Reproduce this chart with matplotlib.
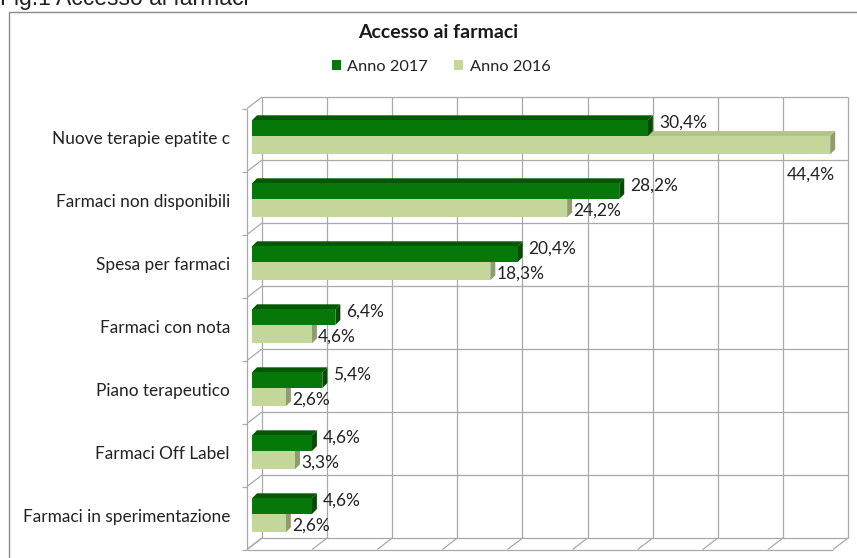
import matplotlib
matplotlib.use("Agg")
import matplotlib.pyplot as plt
from matplotlib.patches import Polygon, Rectangle

plt.rcParams['font.family'] = ['Lato', 'DejaVu Sans']

# Data
categorie = ["Nuove terapie epatite c", "Farmaci non disponibili", "Spesa per farmaci",
             "Farmaci con nota", "Piano terapeutico", "Farmaci Off Label",
             "Farmaci in sperimentazione"]
anno_2017 = [30.4, 28.2, 20.4, 6.4, 5.4, 4.6, 4.6]
anno_2016 = [44.4, 24.2, 18.3, 4.6, 2.6, 3.3, 2.6]

X_MAX = 45
N = len(categorie)

# colours: front, top, side
verde = ("#06780a", "#035803", "#064a06")
chiaro = ("#c4d79b", "#b2c48a", "#8e9c70")
griglia = "#a9a9a9"
testo = "#222222"

W, H = 857, 558
fig = plt.figure(figsize=(W / 100, H / 100), dpi=100)
fig.patch.set_facecolor("white")

ax_l, ax_t, ax_w, ax_h = 252, 105.5, 586, 441
ax = fig.add_axes([ax_l / W, (H - ax_t - ax_h) / H, ax_w / W, ax_h / H])
ax.set_xlim(0, X_MAX)
ax.set_ylim(N, 0)
ax.axis("off")

# pixel -> data helpers
px_x = X_MAX / ax_w
px_y = N / ax_h


def seg(x0, y0, x1, y1):
    ax.plot([x0, x1], [y0, y1], color=griglia, lw=0.9, clip_on=False, zorder=1,
            solid_capstyle="butt")


# walls: back plane shifted right/up, front edge shifted left/down
bdx, bdy = 10 * px_x, 8.5 * px_y
fdx, fdy = -5 * px_x, 3 * px_y
for g in range(0, X_MAX + 1, 5):
    seg(g + bdx, 0 - bdy, g + bdx, N - bdy)
    seg(g + bdx, N - bdy, g + fdx, N + fdy)
for r in range(N + 1):
    seg(bdx, r - bdy, X_MAX + bdx, r - bdy)
    seg(bdx, r - bdy, fdx, r + fdy)
    seg(fdx, r + fdy, fdx - 5 * px_x, r + fdy)
seg(fdx, 0 + fdy, fdx, N + fdy)
seg(fdx, N + fdy, X_MAX + fdx, N + fdy)

# 3D bars
ddx, ddy = 5 * px_x, 5 * px_y


def barra(v, y0, h, colori, z):
    y1 = y0 + h
    fronte, sopra, lato = colori
    ax.add_patch(Polygon([(0, y0), (v, y0), (v + ddx, y0 - ddy), (ddx, y0 - ddy)],
                         closed=True, fc=sopra, ec="none", zorder=z))
    ax.add_patch(Polygon([(v, y0), (v + ddx, y0 - ddy), (v + ddx, y1 - ddy), (v, y1)],
                         closed=True, fc=lato, ec="none", zorder=z))
    ax.barh(y0 + h / 2, v, height=h, left=0, color=fronte, zorder=z + 0.5)


h_scuro, h_chiaro = 0.25, 0.29
for r in range(N):
    y_s = r + 0.235
    y_c = y_s + h_scuro
    barra(anno_2016[r], y_c, h_chiaro, chiaro, 3)
    barra(anno_2017[r], y_s, h_scuro, verde, 5)


def fmt(v):
    return f"{v:.1f}".replace(".", ",") + "%"


lab = dict(fontsize=12.5, color=testo, textcoords="offset pixels", zorder=8,
           annotation_clip=False)
for r in range(N):
    v17, v16 = anno_2017[r], anno_2016[r]
    ax.annotate(fmt(v17), (v17, r + 0.235 + h_scuro / 2), xytext=(11, 6),
                ha="left", va="center", **lab)
    yc = r + 0.235 + h_scuro + h_chiaro / 2
    if v16 > X_MAX - 5:
        ax.annotate(fmt(v16), (v16, r + 0.235 + h_scuro + h_chiaro), xytext=(5, -20),
                    ha="right", va="center", **lab)
    else:
        ax.annotate(fmt(v16), (v16, yc), xytext=(6, -2), ha="left", va="center", **lab)

for r, nome in enumerate(categorie):
    ax.text(-22 * px_x, r + 0.53, nome, ha="right", va="center", fontsize=12.4,
            color=testo)

# title, legend and frame
fig.text(438 / W, 1 - 33 / H, "Accesso ai farmaci", ha="center", va="center",
         fontsize=14, fontweight="bold", color="#1a1a1a")
h1 = Rectangle((0, 0), 1, 1, fc=verde[0])
h2 = Rectangle((0, 0), 1, 1, fc=chiaro[0])
fig.legend([h1, h2], ["Anno 2017", "Anno 2016"], loc="center",
           bbox_to_anchor=(441 / W, 1 - 67 / H), ncol=2, frameon=False,
           fontsize=11.8, handlelength=0.55, handleheight=0.55, handletextpad=0.4,
           columnspacing=1.6, labelcolor=testo)
fig.add_artist(Rectangle((9 / W, -0.05), 1.0, 1 - 12 / H + 0.05, transform=fig.transFigure,
                         fill=False, ec="#8a8a8a", lw=1.0))
fig.text(0.0, 1 - 5 / H, "Fig.1 Accesso ai farmaci", ha="left", va="baseline",
         fontsize=16.5, family=["Liberation Sans", "DejaVu Sans"], color="#222222")

fig.savefig("out.png", dpi=100, facecolor="white")
